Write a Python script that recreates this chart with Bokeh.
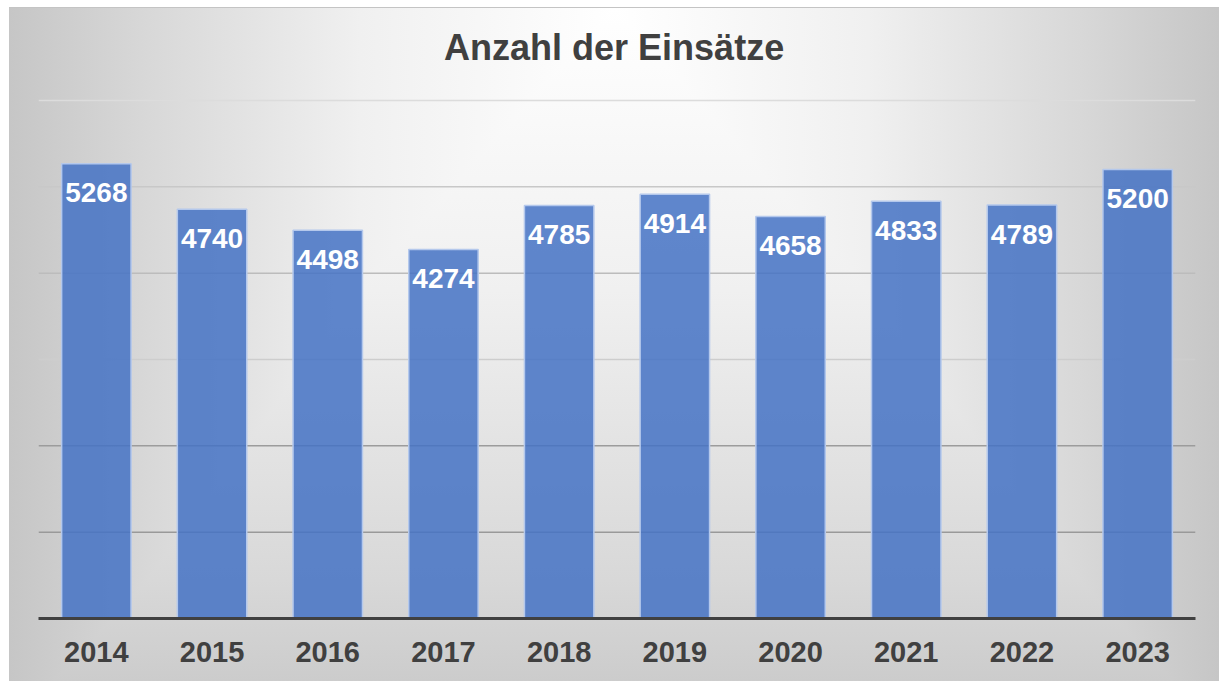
from bokeh.plotting import figure
from bokeh.models import FactorRange, Range1d, Span, ColumnDataSource
from bokeh.core.properties import value
from bokeh.embed import file_html
from bokeh.resources import INLINE

years = ["2014", "2015", "2016", "2017", "2018", "2019", "2020", "2021", "2022", "2023"]
einsaetze = [5268, 4740, 4498, 4274, 4785, 4914, 4658, 4833, 4789, 5200]
y_ticks = [1000, 2000, 3000, 4000, 5000, 6000]
grid_colors = ["#999999", "#9c9c9c", "#cdcdcd", "#bcbcbc", "#c8c8c8", "#dcdcdc"]
title_text = "Anzahl der Einsätze"

FONT = "Liberation Sans"

src = ColumnDataSource(dict(x=years, y=einsaetze, label=[str(v) for v in einsaetze]))

# y range extends above the top gridline to leave room for the title inside the frame
p = figure(
    width=1210, height=674,
    x_range=FactorRange(factors=years, range_padding=0),
    y_range=Range1d(0, 7066),
    output_backend="svg", toolbar_location=None,
    min_border_left=29, min_border_right=24, min_border_top=0, min_border_bottom=64,
)
p.title = None

p.background_fill_alpha = 0
p.border_fill_alpha = 0
p.outline_line_color = None
p.styles = {
    "margin-left": "9px",
    "margin-top": "7px",
    "border-top": "1px solid #c4c4c4",
    "background-image": (
        "linear-gradient(to right, #c6c6c6 0%, #d8d8d8 11.5%, #f0f0f0 29%, #ffffff 50%, "
        "#f0f0f0 71%, #d8d8d8 88.5%, #c6c6c6 100%), "
        "linear-gradient(to bottom, #ffffff 0%, #f0f0f0 42%, #d8d8d8 85%, #cccccc 100%)"
    ),
    "background-blend-mode": "darken",
}

p.xgrid.visible = False
p.ygrid.visible = False
for yt, col in zip(y_ticks, grid_colors):
    p.add_layout(Span(location=yt, dimension="width", line_color=col, line_width=1.5,
                      level="underlay"))

p.vbar(x="x", top="y", width=0.6, source=src, fill_color="#4472C4", fill_alpha=0.85,
       line_color="#b4c8ec", line_width=1.5)

p.text(x="x", y="y", text="label", source=src, text_align="center", text_baseline="middle",
       y_offset=29, text_color="white", text_font=value(FONT), text_font_style="bold",
       text_font_size="28px")

# chart title (x = synthetic centre of the 10 categories)
p.text(x=[4.975], y=[6614], text=[title_text], text_align="center", text_baseline="middle",
       text_color="#404040", text_font=value(FONT), text_font_style="bold",
       text_font_size="36px")

p.yaxis.visible = False
ax = p.xaxis[0]
ax.axis_line_color = "#404040"
ax.axis_line_width = 3
ax.major_tick_line_color = None
ax.minor_tick_line_color = None
ax.major_tick_out = 0
ax.major_tick_in = 0
ax.major_label_standoff = 23
ax.major_label_text_font = FONT
ax.major_label_text_font_style = "bold"
ax.major_label_text_font_size = "29px"
ax.major_label_text_color = "#404040"

open("out.html", "w").write(file_html(p, INLINE))
